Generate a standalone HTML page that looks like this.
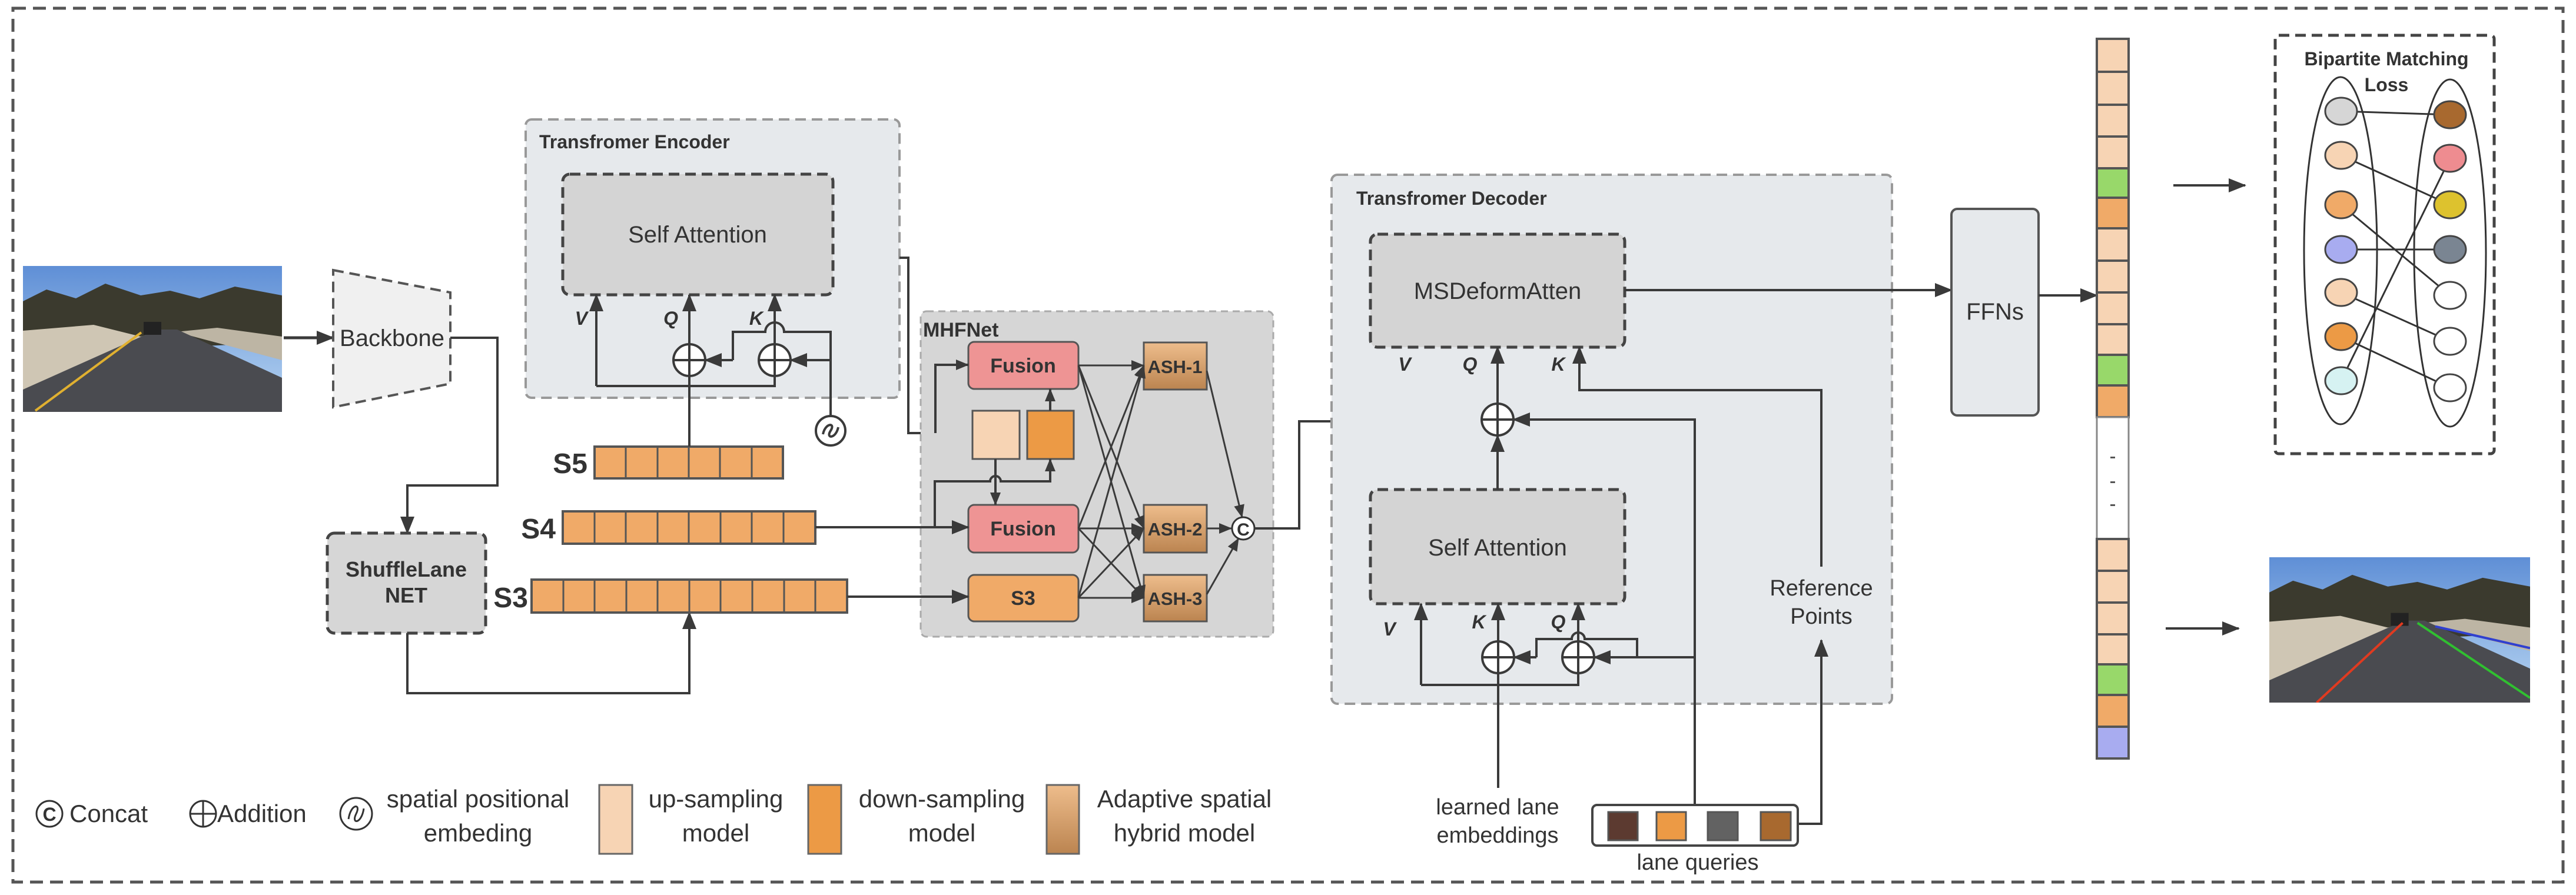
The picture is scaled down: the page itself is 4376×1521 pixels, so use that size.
<!DOCTYPE html>
<html><head><meta charset="utf-8"><style>html,body{margin:0;padding:0;background:#fff}svg{display:block}text{font-family:"Liberation Sans",sans-serif;fill:#333}</style></head><body>
<svg width="4376" height="1521" viewBox="0 0 4376 1521" xmlns="http://www.w3.org/2000/svg">
<defs>
<marker id="a" markerUnits="userSpaceOnUse" markerWidth="30" markerHeight="24" refX="28" refY="12" orient="auto"><path d="M0,0 L30,12 L0,24 Z" fill="#3a3a3a"/></marker>
<marker id="s" markerUnits="userSpaceOnUse" markerWidth="22" markerHeight="18" refX="21" refY="9" orient="auto"><path d="M0,0 L22,9 L0,18 Z" fill="#3a3a3a"/></marker>
<linearGradient id="ash" x1="0" y1="0" x2="0" y2="1"><stop offset="0" stop-color="#EEBD8C"/><stop offset="1" stop-color="#BB8450"/></linearGradient>
<linearGradient id="sky" x1="0" y1="0" x2="0" y2="1"><stop offset="0" stop-color="#5f8fd6"/><stop offset="1" stop-color="#b9d6f2"/></linearGradient>
<g id="road">
<rect x="0" y="0" width="440" height="248" fill="url(#sky)"/>
<path d="M0,60 L40,40 L90,55 L140,30 L200,50 L250,42 L300,55 L360,35 L440,50 L440,130 L0,150 Z" fill="#3b3a2e"/>
<path d="M0,110 L120,100 L200,120 L230,112 L0,210 Z" fill="#cfc6b4"/>
<path d="M260,112 L330,105 L440,120 L440,160 Z" fill="#bdb5a4"/>
<path d="M0,210 L228,108 L262,108 L440,190 L440,248 L0,248 Z" fill="#4a4b50"/>
<rect x="205" y="95" width="30" height="22" fill="#222"/>
</g>
</defs>

<!-- outer border -->
<rect x="22" y="14" width="4332" height="1485" fill="none" stroke="#555" stroke-width="5" stroke-dasharray="22,12"/>

<!-- input image -->
<use href="#road" x="39" y="452"/>
<path d="M60,698 L240,565" stroke="#e0b030" stroke-width="4"/>
<line x1="482" y1="574" x2="566" y2="574" stroke="#3a3a3a" stroke-width="5" marker-end="url(#a)"/>

<!-- backbone -->
<path d="M566,459 L765,497 L765,652 L566,692 Z" fill="#f0f0f0" stroke="#555" stroke-width="4" stroke-dasharray="18,10"/>
<text x="666" y="588" font-size="40" text-anchor="middle" fill="#444">Backbone</text>
<polyline points="765,574 845,574 845,825 692,825 692,906" fill="none" stroke="#3a3a3a" stroke-width="4" marker-end="url(#a)"/>

<!-- ShuffleLane -->
<rect x="556" y="906" width="269" height="170" rx="12" fill="#d6d6d6" stroke="#444" stroke-width="5" stroke-dasharray="18,10"/>
<text x="690" y="980" font-size="36" font-weight="bold" text-anchor="middle">ShuffleLane</text>
<text x="690" y="1024" font-size="36" font-weight="bold" text-anchor="middle">NET</text>
<polyline points="692,1076 692,1178 1171,1178 1171,1041" fill="none" stroke="#3a3a3a" stroke-width="4" marker-end="url(#a)"/>

<!-- S bars -->
<g stroke="#555" stroke-width="4" fill="#F0AA68">
<rect x="1010" y="759" width="320" height="54"/>
<rect x="956" y="869" width="429" height="55"/>
<rect x="903" y="985" width="536" height="56"/>
</g>
<g stroke="#555" stroke-width="3">
<path d="M1063,759V813M1117,759V813M1170,759V813M1223,759V813M1277,759V813"/>
<path d="M1010,869V924M1063,869V924M1117,869V924M1170,869V924M1224,869V924M1277,869V924M1331,869V924"/>
<path d="M957,985V1041M1010,985V1041M1064,985V1041M1117,985V1041M1171,985V1041M1224,985V1041M1278,985V1041M1332,985V1041M1385,985V1041"/>
</g>
<text x="998" y="804" font-size="48" font-weight="bold" text-anchor="end">S5</text>
<text x="944" y="915" font-size="48" font-weight="bold" text-anchor="end">S4</text>
<text x="897" y="1032" font-size="48" font-weight="bold" text-anchor="end">S3</text>

<!-- Encoder -->
<rect x="893" y="203" width="635" height="473" rx="10" fill="#E6E9EC" stroke="#999" stroke-width="4" stroke-dasharray="18,10"/>
<text x="916" y="252" font-size="32" font-weight="bold">Transfromer Encoder</text>
<rect x="956" y="296" width="459" height="205" rx="12" fill="#d4d4d4" stroke="#444" stroke-width="5" stroke-dasharray="18,10"/>
<text x="1185" y="412" font-size="40" text-anchor="middle" fill="#444">Self Attention</text>
<g fill="none" stroke="#3a3a3a" stroke-width="4">
<polyline points="1013,656 1316,656 1316,639"/>
<line x1="1013" y1="656" x2="1013" y2="501" marker-end="url(#a)"/>
<line x1="1171" y1="759" x2="1171" y2="501" marker-end="url(#a)"/>
<line x1="1316" y1="585" x2="1316" y2="501" marker-end="url(#a)"/>
<line x1="1316" y1="640" x2="1316" y2="585"/>
<path d="M1411,707 L1411,564 L1332,564 A16,16 0 0 0 1300,564 L1245,564 L1245,612"/>
<line x1="1245" y1="612" x2="1198" y2="612" marker-end="url(#a)"/>
<line x1="1411" y1="612" x2="1343" y2="612" marker-end="url(#a)"/>
<circle cx="1171" cy="612" r="27" fill="#fff"/>
<circle cx="1316" cy="612" r="27" fill="#fff"/>
<path d="M1144,612H1198M1171,585V639M1289,612H1343M1316,585V639"/>
<circle cx="1411" cy="732" r="25" fill="#fff"/>
<path d="M1398,738 C1402,718 1420,718 1411,732 C1402,746 1420,746 1424,726"/>
</g>
<text x="998" y="552" font-size="32" font-weight="bold" font-style="italic" text-anchor="end">V</text>
<text x="1152" y="552" font-size="32" font-weight="bold" font-style="italic" text-anchor="end">Q</text>
<text x="1296" y="552" font-size="32" font-weight="bold" font-style="italic" text-anchor="end">K</text>

<!-- encoder output to MHFNet -->
<polyline points="1528,438 1543,438 1543,736 1652,736" fill="none" stroke="#3a3a3a" stroke-width="4" marker-end="url(#a)"/>

<!-- MHFNet -->
<rect x="1564" y="529" width="599" height="553" rx="10" fill="#D6D6D6" stroke="#aaa" stroke-width="3" stroke-dasharray="12,8"/>
<text x="1568" y="572" font-size="34" font-weight="bold">MHFNet</text>
<g stroke="#555" stroke-width="3">
<rect x="1645" y="581" width="187" height="80" rx="10" fill="#EE9494"/>
<rect x="1652" y="698" width="80" height="82" fill="#F7D4B4"/>
<rect x="1745" y="698" width="79" height="82" fill="#EC9A45"/>
<rect x="1645" y="858" width="187" height="81" rx="10" fill="#EE9494"/>
<rect x="1645" y="977" width="187" height="79" rx="10" fill="#F0AA68"/>
<rect x="1943" y="582" width="107" height="80" fill="url(#ash)"/>
<rect x="1943" y="858" width="107" height="81" fill="url(#ash)"/>
<rect x="1943" y="977" width="107" height="79" fill="url(#ash)"/>
</g>
<g font-weight="bold" text-anchor="middle" font-size="34">
<text x="1738" y="633">Fusion</text>
<text x="1738" y="910">Fusion</text>
<text x="1738" y="1028">S3</text>
<text x="1996" y="634" font-size="31">ASH-1</text>
<text x="1996" y="910" font-size="31">ASH-2</text>
<text x="1996" y="1028" font-size="31">ASH-3</text>
</g>
<g fill="none" stroke="#3a3a3a" stroke-width="4">
<polyline points="1589,736 1589,620 1645,620" marker-end="url(#s)"/>
<line x1="1385" y1="896" x2="1645" y2="896" marker-end="url(#a)"/>
<line x1="1439" y1="1014" x2="1645" y2="1014" marker-end="url(#a)"/>
<path d="M1588,896 L1588,818 L1682,818 A9,9 0 0 1 1700,818 L1784,818 L1784,780" marker-end="url(#s)"/>
<line x1="1691" y1="780" x2="1691" y2="858" marker-end="url(#s)"/>
<line x1="1784" y1="698" x2="1784" y2="661" marker-end="url(#s)"/>
</g>
<g fill="none" stroke="#3a3a3a" stroke-width="3" marker-end="url(#s)">
<line x1="1832" y1="621" x2="1943" y2="621"/>
<line x1="1832" y1="621" x2="1943" y2="898"/>
<line x1="1832" y1="621" x2="1943" y2="1016"/>
<line x1="1832" y1="898" x2="1943" y2="621"/>
<line x1="1832" y1="898" x2="1943" y2="898"/>
<line x1="1832" y1="898" x2="1943" y2="1016"/>
<line x1="1832" y1="1016" x2="1943" y2="621"/>
<line x1="1832" y1="1016" x2="1943" y2="898"/>
<line x1="1832" y1="1016" x2="1943" y2="1016"/>
<line x1="2050" y1="630" x2="2110" y2="879"/>
<line x1="2050" y1="898" x2="2092" y2="898"/>
<line x1="2050" y1="1010" x2="2104" y2="915"/>
</g>
<circle cx="2112" cy="898" r="19" fill="#fff" stroke="#333" stroke-width="3"/>
<text x="2112" y="910" font-size="30" font-weight="bold" text-anchor="middle">C</text>
<polyline points="2131,898 2207,898 2207,716 2428,716 2428,590" fill="none" stroke="#3a3a3a" stroke-width="4" marker-end="url(#a)"/>

<!-- Decoder -->
<rect x="2262" y="297" width="952" height="899" rx="10" fill="#E6E9EC" stroke="#999" stroke-width="4" stroke-dasharray="18,10"/>
<text x="2304" y="348" font-size="32" font-weight="bold">Transfromer Decoder</text>
<rect x="2328" y="398" width="432" height="192" rx="12" fill="#d4d4d4" stroke="#444" stroke-width="5" stroke-dasharray="18,10"/>
<text x="2544" y="508" font-size="40" text-anchor="middle" fill="#444">MSDeformAtten</text>
<rect x="2328" y="832" width="432" height="194" rx="12" fill="#d4d4d4" stroke="#444" stroke-width="5" stroke-dasharray="18,10"/>
<text x="2544" y="944" font-size="40" text-anchor="middle" fill="#444">Self Attention</text>
<g fill="none" stroke="#3a3a3a" stroke-width="4">
<line x1="2760" y1="493" x2="3315" y2="493" marker-end="url(#a)"/>
<line x1="2544" y1="686" x2="2544" y2="590" marker-end="url(#a)"/>
<line x1="2544" y1="832" x2="2544" y2="740" marker-end="url(#a)"/>
<polyline points="3094,963 3094,663 2683,663 2683,590" marker-end="url(#a)"/>
<polyline points="2879,1368 2879,713 2571,713" marker-end="url(#a)"/>
<polyline points="3054,1400 3094,1400 3094,1088" marker-end="url(#a)"/>
<polyline points="2414,1164 2681,1164 2681,1144"/>
<line x1="2414" y1="1164" x2="2414" y2="1026" marker-end="url(#a)"/>
<line x1="2545" y1="1339" x2="2545" y2="1026" marker-end="url(#a)"/>
<line x1="2681" y1="1090" x2="2681" y2="1026" marker-end="url(#a)"/>
<line x1="2879" y1="1117" x2="2708" y2="1117" marker-end="url(#a)"/>
<path d="M2781,1117 L2781,1086 L2692,1086 A11,11 0 0 0 2670,1086 L2610,1086 L2610,1117"/>
<line x1="2610" y1="1117" x2="2572" y2="1117" marker-end="url(#a)"/>
<circle cx="2544" cy="713" r="27" fill="#fff"/>
<path d="M2517,713H2571M2544,686V740"/>
<circle cx="2545" cy="1117" r="27" fill="#fff"/>
<path d="M2518,1117H2572M2545,1090V1144"/>
<circle cx="2681" cy="1117" r="27" fill="#fff"/>
<path d="M2654,1117H2708M2681,1090V1144"/>
</g>
<g font-size="32" font-weight="bold" font-style="italic" text-anchor="middle">
<text x="2386" y="630">V</text><text x="2497" y="630">Q</text><text x="2647" y="630">K</text>
<text x="2360" y="1080">V</text><text x="2512" y="1068">K</text><text x="2647" y="1068">Q</text>
</g>
<text x="3094" y="1012" font-size="38" text-anchor="middle" fill="#444">Reference</text>
<text x="3094" y="1060" font-size="38" text-anchor="middle" fill="#444">Points</text>
<text x="2544" y="1384" font-size="38" text-anchor="middle" fill="#444">learned lane</text>
<text x="2544" y="1432" font-size="38" text-anchor="middle" fill="#444">embeddings</text>
<rect x="2705" y="1368" width="349" height="69" rx="8" fill="#fff" stroke="#444" stroke-width="4"/>
<g stroke="#555" stroke-width="3">
<rect x="2732" y="1380" width="50" height="48" fill="#5C3A30"/>
<rect x="2814" y="1380" width="50" height="48" fill="#EC9A45"/>
<rect x="2901" y="1380" width="51" height="48" fill="#626262"/>
<rect x="2991" y="1380" width="51" height="48" fill="#A8692F"/>
</g>
<text x="2884" y="1478" font-size="38" text-anchor="middle" fill="#444">lane queries</text>

<!-- FFNs -->
<rect x="3315" y="355" width="148" height="351" rx="10" fill="#E6E9EC" stroke="#555" stroke-width="4"/>
<text x="3389" y="543" font-size="40" text-anchor="middle" fill="#444">FFNs</text>
<line x1="3463" y1="502" x2="3562" y2="502" marker-end="url(#a)"/>
<line x1="3463" y1="502" x2="3562" y2="502" stroke="#3a3a3a" stroke-width="4" marker-end="url(#a)"/>

<!-- column -->
<g stroke="#555" stroke-width="4">
<rect x="3562" y="66" width="54" height="56" fill="#F7D4B4"/>
<rect x="3562" y="122" width="54" height="56" fill="#F7D4B4"/>
<rect x="3562" y="178" width="54" height="54" fill="#F7D4B4"/>
<rect x="3562" y="232" width="54" height="54" fill="#F7D4B4"/>
<rect x="3562" y="286" width="54" height="50" fill="#98D86A"/>
<rect x="3562" y="336" width="54" height="52" fill="#F0AA68"/>
<rect x="3562" y="388" width="54" height="55" fill="#F7D4B4"/>
<rect x="3562" y="443" width="54" height="54" fill="#F7D4B4"/>
<rect x="3562" y="497" width="54" height="54" fill="#F7D4B4"/>
<rect x="3562" y="551" width="54" height="52" fill="#F7D4B4"/>
<rect x="3562" y="603" width="54" height="52" fill="#98D86A"/>
<rect x="3562" y="655" width="54" height="54" fill="#F0AA68"/>
<rect x="3562" y="709" width="54" height="207" fill="#fff" stroke="#888" stroke-width="3"/>
<rect x="3562" y="916" width="54" height="54" fill="#F7D4B4"/>
<rect x="3562" y="970" width="54" height="54" fill="#F7D4B4"/>
<rect x="3562" y="1024" width="54" height="54" fill="#F7D4B4"/>
<rect x="3562" y="1078" width="54" height="51" fill="#F7D4B4"/>
<rect x="3562" y="1129" width="54" height="52" fill="#98D86A"/>
<rect x="3562" y="1181" width="54" height="54" fill="#F0AA68"/>
<rect x="3562" y="1235" width="54" height="54" fill="#A8ACF0"/>
</g>
<g fill="#555"><rect x="3585" y="776" width="8" height="3"/><rect x="3585" y="818" width="8" height="3"/><rect x="3585" y="857" width="8" height="3"/></g>

<line x1="3692" y1="315" x2="3814" y2="315" stroke="#3a3a3a" stroke-width="4" marker-end="url(#a)"/>
<line x1="3679" y1="1068" x2="3803" y2="1068" stroke="#3a3a3a" stroke-width="4" marker-end="url(#a)"/>

<!-- Bipartite -->
<rect x="3865" y="60" width="372" height="711" rx="6" fill="#fff" stroke="#444" stroke-width="5" stroke-dasharray="18,10"/>
<text x="4054" y="111" font-size="32" font-weight="bold" text-anchor="middle">Bipartite Matching</text>
<text x="4054" y="155" font-size="32" font-weight="bold" text-anchor="middle">Loss</text>
<g fill="none" stroke="#333" stroke-width="3">
<ellipse cx="3976" cy="426" rx="62" ry="295"/>
<ellipse cx="4162" cy="430" rx="61" ry="295"/>
<line x1="3977" y1="189" x2="4162" y2="195"/>
<line x1="3977" y1="264" x2="4162" y2="348"/>
<line x1="3977" y1="348" x2="4162" y2="502"/>
<line x1="3977" y1="424" x2="4162" y2="424"/>
<line x1="3977" y1="497" x2="4162" y2="580"/>
<line x1="3977" y1="572" x2="4162" y2="659"/>
<line x1="3977" y1="647" x2="4162" y2="269"/>
</g>
<g stroke="#444" stroke-width="3">
<ellipse cx="3977" cy="189" rx="27" ry="23" fill="#D6D6D6"/>
<ellipse cx="3977" cy="264" rx="27" ry="23" fill="#F7D4B4"/>
<ellipse cx="3977" cy="348" rx="27" ry="23" fill="#F0AA68"/>
<ellipse cx="3977" cy="424" rx="27" ry="23" fill="#A8ACF0"/>
<ellipse cx="3977" cy="497" rx="27" ry="23" fill="#F7D4B4"/>
<ellipse cx="3977" cy="572" rx="27" ry="23" fill="#EC9A45"/>
<ellipse cx="3977" cy="647" rx="27" ry="23" fill="#D6F2F2"/>
<ellipse cx="4162" cy="195" rx="27" ry="23" fill="#A8692F"/>
<ellipse cx="4162" cy="269" rx="27" ry="23" fill="#EE8C90"/>
<ellipse cx="4162" cy="348" rx="27" ry="23" fill="#DDC22E"/>
<ellipse cx="4162" cy="424" rx="27" ry="23" fill="#7A8592"/>
<ellipse cx="4162" cy="502" rx="27" ry="23" fill="#fff"/>
<ellipse cx="4162" cy="580" rx="27" ry="23" fill="#fff"/>
<ellipse cx="4162" cy="659" rx="27" ry="23" fill="#fff"/>
</g>

<!-- output image -->
<svg x="3855" y="947" width="443" height="247" viewBox="0 0 440 248" preserveAspectRatio="none"><use href="#road"/>
<path d="M80,248 L225,112" stroke="#e03a20" stroke-width="4"/><path d="M250,112 L440,240" stroke="#30c030" stroke-width="4"/><path d="M280,118 L440,155" stroke="#3040d0" stroke-width="4"/></svg>

<!-- Legend -->
<g fill="none" stroke="#333" stroke-width="3">
<circle cx="84" cy="1383" r="22"/>
<circle cx="345" cy="1383" r="22"/><path d="M323,1383H367M345,1361V1405"/>
<circle cx="605" cy="1383" r="27"/><path d="M592,1392 C596,1365 614,1365 605,1383 C596,1401 614,1401 618,1374"/>
</g>
<text x="84" y="1395" font-size="32" font-weight="bold" text-anchor="middle">C</text>
<g font-size="42" fill="#444">
<text x="118" y="1397">Concat</text>
<text x="369" y="1397">Addition</text>
<text x="812" y="1372" text-anchor="middle">spatial positional</text>
<text x="812" y="1430" text-anchor="middle">embeding</text>
<text x="1216" y="1372" text-anchor="middle">up-sampling</text>
<text x="1216" y="1430" text-anchor="middle">model</text>
<text x="1600" y="1372" text-anchor="middle">down-sampling</text>
<text x="1600" y="1430" text-anchor="middle">model</text>
<text x="2012" y="1372" text-anchor="middle">Adaptive spatial</text>
<text x="2012" y="1430" text-anchor="middle">hybrid model</text>
</g>
<g stroke="#666" stroke-width="3">
<rect x="1018" y="1334" width="56" height="117" fill="#F7D4B4"/>
<rect x="1373" y="1334" width="56" height="117" fill="#EC9A45"/>
<rect x="1778" y="1334" width="55" height="117" fill="url(#ash)"/>
</g>
</svg>
</body></html>
